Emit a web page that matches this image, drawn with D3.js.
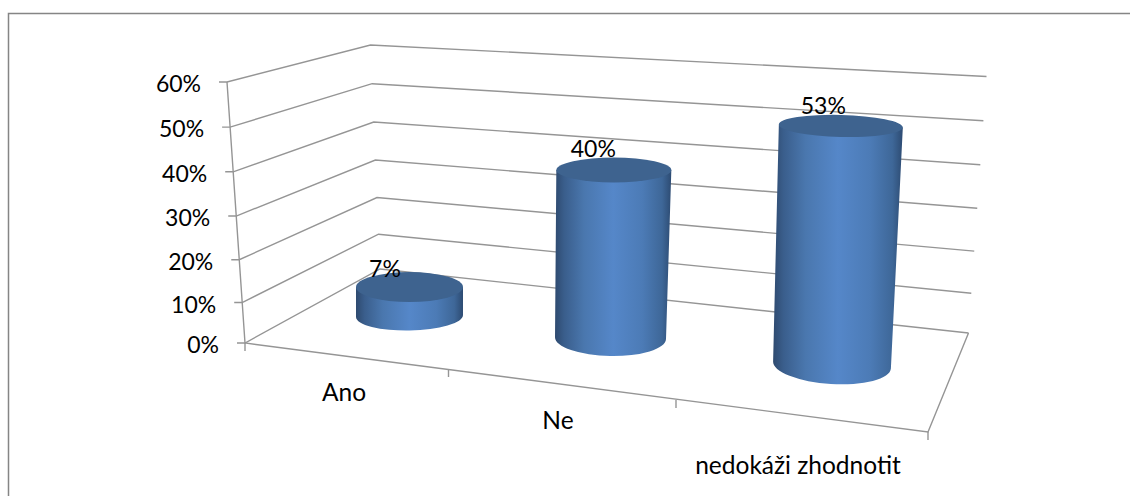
<!DOCTYPE html>
<html><head><meta charset="utf-8">
<script src="https://cdn.jsdelivr.net/npm/d3@7"></script>
<style>html,body{margin:0;padding:0;background:#fff}svg{display:block}text{font-family:Lato,"Noto Sans",sans-serif;fill:#000}</style>
</head><body><div id="c"></div>
<script>
const categories = ["Ano", "Ne", "nedokáži zhodnotit"];
const values = [0.07, 0.40, 0.53];
const valueTicks = [0, 0.1, 0.2, 0.3, 0.4, 0.5, 0.6];

const W = 1130, H = 496;
const svg = d3.select("#c").append("svg").attr("width", W).attr("height", H);

// projected box corners
const FL0 = [245, 343], FL1 = [227, 82], BL0 = [380, 269], BL1 = [370.5, 45];
const BR0 = [968.5, 333], BR1 = [986.5, 76.5];
const warp = d3.scalePow().exponent(1.04).domain([0, 0.6]).range([0, 1]);
const edge = (a, b) => v => d3.interpolate(a, b)(warp(v));
const frontLeft = edge(FL0, FL1), backLeft = edge(BL0, BL1), backRight = edge(BR0, BR1);
const catEdge = d3.scaleLinear().domain([0, 1, 2, 3]).range([[245, 343], [448.5, 369], [676, 400], [928, 432]]);
const line = d3.line();
const grid = svg.append("g").attr("fill", "none").attr("stroke", "#959595").attr("stroke-width", 1.4);

svg.append("path").attr("d", "M8.5 496V13.5H1130").attr("fill", "none").attr("stroke", "#858585").attr("stroke-width", 1.5);

valueTicks.forEach(v => {
  const a = frontLeft(v), b = backLeft(v), c = backRight(v);
  grid.append("path").attr("d", line([[a[0] - 8, a[1]], a, b, c]));
  svg.append("text").attr("x", a[0] - 26).attr("y", a[1] + 10).attr("text-anchor", "end")
    .attr("font-size", 23).text(d3.format(".0%")(v));
});
grid.append("path").attr("d", line([FL1, FL0, catEdge(3), BR0]));
[0, 1, 2, 3].forEach(i => {
  const p = catEdge(i);
  grid.append("path").attr("d", line([p, [p[0], p[1] + 8]]));
});

// cylinders
const idx = categories.map((_, i) => i);
const baseX = d3.scaleLinear().domain(idx).range([409.5, 610.5, 832]);
const baseY = d3.scaleLinear().domain(idx).range([316, 338, 365]);
const baseRx = d3.scaleLinear().domain(idx).range([53.5, 55.5, 59]);
const baseRy = d3.scaleLinear().domain(idx).range([14.5, 18, 19]);
const baseTilt = d3.scaleLinear().domain(idx).range([-1, 1, 3.5]);
const topRx = d3.scaleLinear().domain(idx).range([53.5, 57.5, 62]);
const topRy = d3.scaleLinear().domain(idx).range([15, 12.5, 11]);
const topTilt = d3.scaleLinear().domain(idx).range([0, 0, 1.4]);
const rise = d3.scaleLinear().domain(idx).range([414, 420, 451]);
const lean = d3.scaleLinear().domain([0, 0.6]).range([0, 10]);
const labelDx = d3.scaleLinear().domain(idx).range([-24.5, -20.5, -17.5]);
const labelDy = d3.scaleLinear().domain(idx).range([10, 13, 12]);

const defs = svg.append("defs");
const stops = [[0, "#2e4a6f"], [0.08, "#3a5e8c"], [0.25, "#4a77ae"], [0.5, "#5587c9"], [0.75, "#4c7bb6"], [0.92, "#3e6798"], [1, "#2d4b72"]];
const gap = d3.scaleLinear().domain(d3.extent(idx)).range([0, 1]);
const rad = d3.scaleLinear().domain([0, 180]).range([0, Math.PI]);

idx.forEach(i => {
  const v = values[i];
  const cx = baseX(i), cy = baseY(i), rx = baseRx(i), ry = baseRy(i), bt = baseTilt(i);
  const tx = cx + lean(v) * gap(i), ty = cy - rise(i) * v, trx = topRx(i), tRy = topRy(i), tt = topTilt(i);
  const bdx = rx * Math.cos(rad(bt)), bdy = rx * Math.sin(rad(bt));
  const tdx = trx * Math.cos(rad(tt)), tdy = trx * Math.sin(rad(tt));
  const id = "g" + i;
  const g = defs.append("linearGradient").attr("id", id);
  stops.forEach(s => g.append("stop").attr("offset", s[0]).attr("stop-color", s[1]));
  svg.append("path")
    .attr("d", `M${tx - tdx} ${ty - tdy}L${cx - bdx} ${cy - bdy}A${rx} ${ry} ${bt} 0 0 ${cx + bdx} ${cy + bdy}L${tx + tdx} ${ty + tdy}Z`)
    .attr("fill", `url(#${id})`);
  svg.append("ellipse").attr("cx", tx).attr("cy", ty).attr("rx", trx).attr("ry", tRy)
    .attr("transform", `rotate(${tt} ${tx} ${ty})`).attr("fill", "#3e638f");
  svg.append("text").attr("x", tx + labelDx(i)).attr("y", ty - labelDy(i)).attr("text-anchor", "middle")
    .attr("font-size", 23).text(d3.format(".0%")(v));
});

// category labels
const labelX = d3.scaleLinear().domain(idx).range([344, 558, 798]);
const labelY = d3.scaleLinear().domain(idx).range([401, 429, 474]);
const labelSize = 24.5;
idx.forEach(i => svg.append("text").attr("x", labelX(i)).attr("y", labelY(i)).attr("text-anchor", "middle")
  .attr("font-size", labelSize).text(categories[i]));
</script></body></html>
